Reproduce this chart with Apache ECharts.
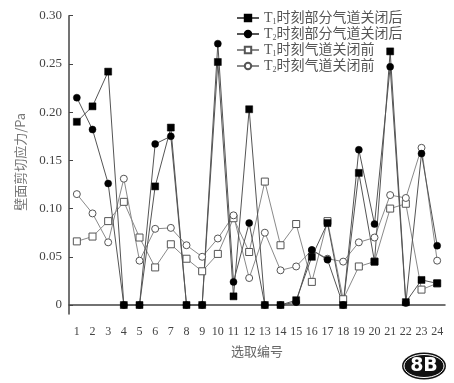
<!DOCTYPE html>
<html>
<head>
<meta charset="utf-8">
<style>html,body{margin:0;padding:0;background:#fff}#c{width:454px;height:383px}</style>
<script src="https://cdn.jsdelivr.net/npm/echarts@6/dist/echarts.min.js"></script>
</head>
<body>
<div id="c"></div>
<script>
var categories = ['1','2','3','4','5','6','7','8','9','10','11','12','13','14','15','16','17','18','19','20','21','22','23','24'];
var t1After = [0.190,0.206,0.242,0,0,0.123,0.184,0,0,0.252,0.009,0.203,0,0,0.005,0.050,0.085,0,0.137,0.045,0.263,0.003,0.026,0.0225];
var t2After = [0.215,0.182,0.126,0,0,0.167,0.175,0,0,0.271,0.024,0.085,0,0,0.003,0.057,0.047,0,0.161,0.084,0.247,0.002,0.157,0.0615];
var t1Before = [0.066,0.071,0.087,0.107,0.070,0.039,0.063,0.048,0.035,0.053,0.090,0.055,0.128,0.062,0.084,0.024,0.087,0.006,0.040,0.045,0.100,0.105,0.016,0.0225];
var t2Before = [0.115,0.095,0.065,0.131,0.046,0.079,0.080,0.062,0.050,0.069,0.093,0.028,0.075,0.036,0.040,0.057,0.048,0.045,0.065,0.070,0.114,0.111,0.163,0.046];
var yTicks = [0,0.05,0.10,0.15,0.20,0.25,0.30];
var seriesNames = ['T{s|1}时刻部分气道关闭后','T{s|2}时刻部分气道关闭后','T{s|1}时刻气道关闭前','T{s|2}时刻气道关闭前'];

var serif = '"Liberation Serif","Noto Sans CJK SC",serif';
var chart = echarts.init(document.getElementById('c'), null, {renderer:'canvas'});
function mk(name, data, sym, filled) {
  return {
    name: name, type: 'line', data: data, symbol: sym, symbolSize: 7,
    showAllSymbol: true,
    lineStyle: {color: filled ? '#555' : '#8a8a8a', width: 1},
    itemStyle: filled ? {color: '#000', borderColor: '#000', borderWidth: 0.5} : {color: '#fff', borderColor: '#555', borderWidth: 1},
    emphasis: {disabled: true},
    animation: false
  };
}
chart.setOption({
  animation: false,
  backgroundColor: '#fff',
  grid: {left: 69, right: 9, top: 15.7, bottom: 69, containLabel: false},
  legend: {
    orient: 'vertical', left: 231, top: 6, itemGap: 1, itemWidth: 22, itemHeight: 8,
    data: seriesNames,
    textStyle: {fontFamily: serif, fontSize: 14, color: '#555', padding: [0,0,0,0],
      rich: {s: {fontSize: 8, verticalAlign: 'bottom', padding: [8,0,0,0], fontFamily: serif, color: '#555'}}}
  },
  xAxis: {
    type: 'category', data: categories, boundaryGap: true,
    name: '选取编号', nameLocation: 'middle', nameGap: 31,
    nameTextStyle: {fontFamily: '"Noto Sans CJK SC",sans-serif', fontSize: 13, color: '#666'},
    axisLine: {lineStyle: {color: '#444', width: 1.5}},
    axisTick: {inside: true, alignWithLabel: true, length: 4, lineStyle: {color: '#444'}, interval: 0},
    axisLabel: {interval: 0, margin: 12, fontFamily: serif, fontSize: 12, color: '#444'},
    splitLine: {show: false}
  },
  yAxis: {
    type: 'value', min: -0.0093, max: 0.30,
    name: '壁面剪切应力/Pa', nameLocation: 'middle', nameGap: 42, nameRotate: 90,
    nameTextStyle: {fontFamily: '"Noto Sans CJK SC",sans-serif', fontSize: 13, color: '#777', padding: [0,0,0,6]},
    axisLine: {show: true, lineStyle: {color: '#444', width: 1.5}},
    axisTick: {show: true, inside: true, length: 4, lineStyle: {color: '#444'}, customValues: yTicks},
    axisLabel: {margin: 7, fontFamily: serif, fontSize: 13, color: '#444', customValues: yTicks,
      formatter: function (v) { return Math.abs(v) < 1e-9 ? '0' : v.toFixed(2); }},
    splitLine: {show: false}
  },
  series: [
    mk(seriesNames[2], t1Before, 'rect', false),
    mk(seriesNames[3], t2Before, 'circle', false),
    mk(seriesNames[0], t1After, 'rect', true),
    mk(seriesNames[1], t2After, 'circle', true)
  ],
  graphic: [
    {type: 'ellipse', shape: {cx: 424, cy: 366, rx: 22, ry: 13.5}, style: {fill: '#111'}},
    {type: 'ellipse', shape: {cx: 424, cy: 366, rx: 20, ry: 11.5}, style: {fill: 'none', stroke: '#fff', lineWidth: 1}},
    {type: 'text', x: 424, y: 366, style: {text: '8B', fill: '#fff', font: 'bold 19px "DejaVu Sans",sans-serif', textAlign: 'center', textVerticalAlign: 'middle'}}
  ]
});
</script>
</body>
</html>
